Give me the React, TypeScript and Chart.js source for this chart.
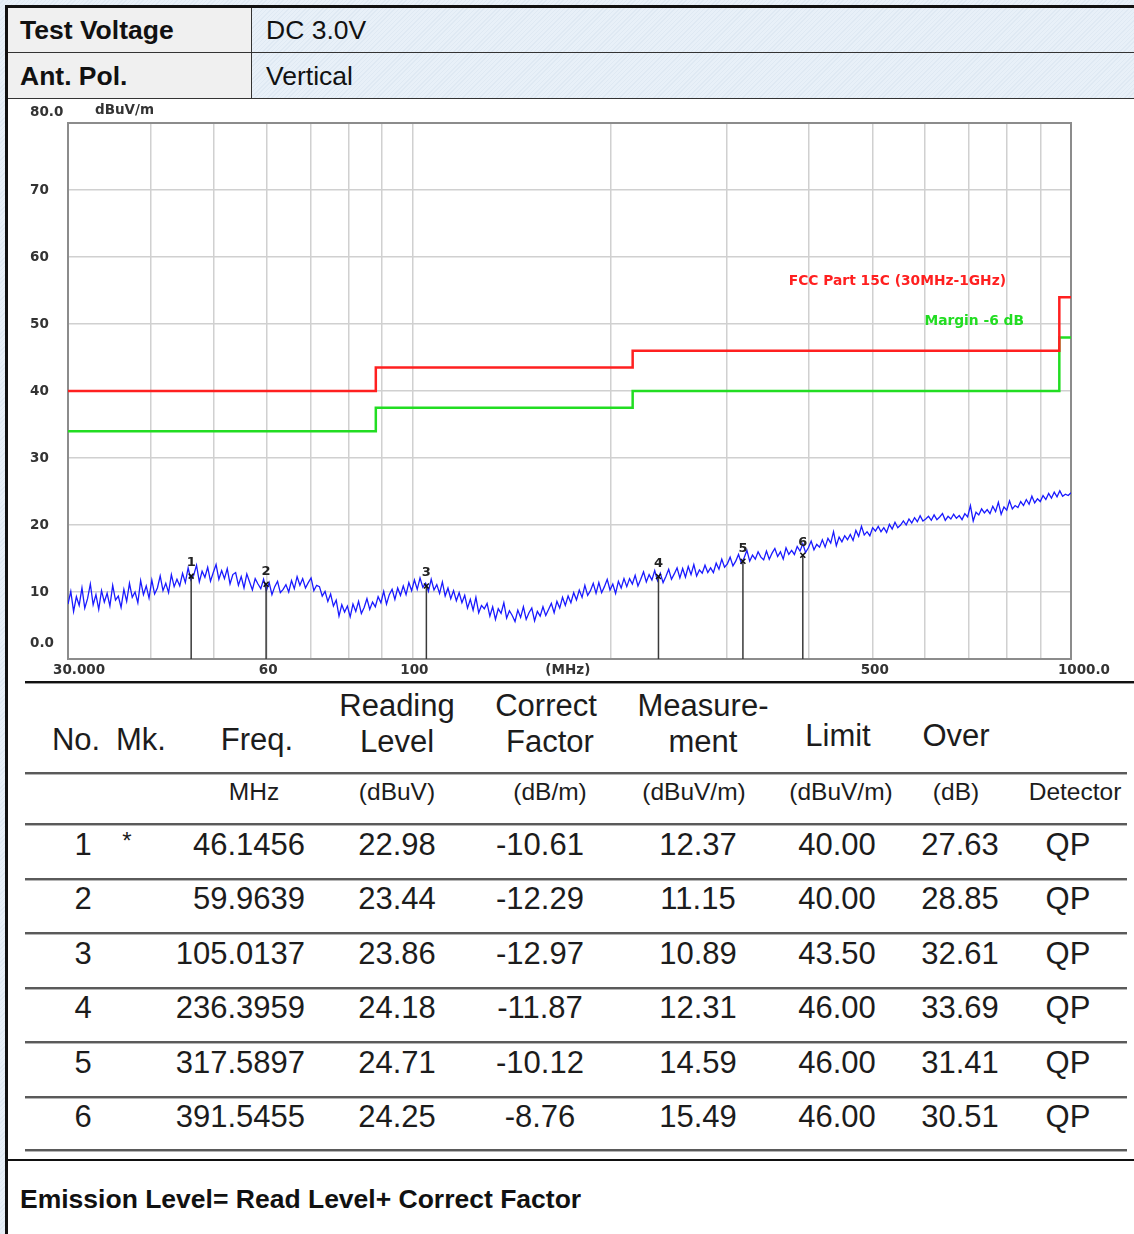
import React, { useEffect, useRef } from "react";
import { Chart, registerables } from "chart.js";

Chart.register(...registerables);

// ---------- data ----------
const X_MIN = 30;
const X_MAX = 1000;
const Y_MIN = 0;
const Y_MAX = 80;

const gridFreqs = [30, 40, 50, 60, 70, 80, 90, 100, 200, 300, 400, 500, 600, 700, 800, 900, 1000];
const yTickValues = [0, 10, 20, 30, 40, 50, 60, 70, 80];
const yTickLabels = ["0.0", "10", "20", "30", "40", "50", "60", "70", "80.0"];
const xLabelValues = [30, 60, 100, 171, 500, 1000];
const xLabelTexts = ["30.000", "60", "100", "(MHz)", "500", "1000.0"];

const limitFreqs = [30, 88, 88, 216, 216, 960, 960, 1000];
const limitLevels = [40, 40, 43.5, 43.5, 46, 46, 54, 54];
const marginLevels = [34, 34, 37.5, 37.5, 40, 40, 48, 48];

const traceValues = [
  8.2, 10.1, 7.1, 9.3, 8.0, 10.6, 7.6, 9.0, 11.2, 8.1,
  9.6, 7.4, 10.2, 8.5, 9.8, 7.9, 11.0, 8.8, 9.4, 7.7,
  10.4, 8.6, 11.3, 9.2, 10.0, 8.4, 11.7, 9.6, 10.9, 9.1,
  11.8, 9.7, 10.6, 12.4, 10.2, 11.3, 9.9, 12.6, 10.8, 11.9,
  10.9, 12.8, 11.4, 13.6, 11.8, 12.5, 14.0, 11.5, 13.1, 12.2,
  13.7, 11.6, 12.9, 14.1, 11.9, 13.2, 12.0, 13.5, 11.2, 12.6,
  12.9, 11.0, 12.3, 10.6, 12.7, 11.5, 10.3, 12.0, 11.2, 10.5,
  11.9, 10.2, 11.4, 9.6, 10.8, 11.6, 9.9, 10.4, 11.1, 10.0,
  11.7, 10.5, 12.3, 11.0, 12.0, 10.6, 11.4, 12.1, 10.2, 11.0,
  10.8, 9.4, 10.1, 8.6, 9.7, 7.9, 8.8, 6.4, 8.1, 7.0,
  7.9, 6.3, 8.2, 7.1, 8.6, 6.8, 7.7, 9.0, 7.4, 8.5,
  7.8, 9.3, 8.4, 10.1, 8.2, 9.6, 10.4, 8.9, 10.6, 9.5,
  10.9, 9.6, 11.4, 10.2, 11.8, 10.4, 12.1, 10.7, 11.3, 10.1,
  11.9, 10.3, 11.1, 9.8, 11.5, 9.4, 10.6, 9.0, 10.2, 8.7,
  9.9, 8.4, 9.5, 7.6, 8.9, 7.3, 9.2, 6.9, 8.0, 7.5,
  8.3, 6.4, 7.8, 5.9, 7.5, 6.8, 8.4, 6.1, 7.2, 6.5,
  5.6, 7.3, 6.2, 7.8, 5.9, 6.9, 7.6, 5.7, 7.1, 6.4,
  7.8, 6.5, 7.4, 8.3, 6.9, 8.6, 7.6, 9.2, 8.0, 9.4,
  8.4, 9.9, 8.8, 10.3, 9.2, 11.0, 9.5, 10.2, 11.3, 9.8,
  11.4, 9.9, 10.8, 11.9, 10.3, 11.2, 9.8, 11.6, 10.6, 12.0,
  10.8, 12.0, 11.2, 12.5, 10.9, 11.9, 13.0, 11.5, 12.6, 11.8,
  13.2, 11.7, 12.8, 11.4, 12.3, 13.4, 11.9, 12.7, 13.6, 12.1,
  13.5, 12.2, 13.8, 12.6, 14.1, 12.4, 13.3, 12.8, 14.0, 12.9,
  13.6, 12.9, 14.3, 13.4, 14.9, 13.7, 14.2, 15.2, 13.9, 14.6,
  15.6, 14.3, 15.1, 16.2, 14.6, 15.5, 14.9, 16.0, 15.2, 14.8,
  16.1, 14.9, 15.8, 16.5, 15.3, 16.0, 14.9, 16.6, 15.6, 16.2,
  15.6, 16.8, 16.1, 17.2, 15.9, 16.6, 17.6, 16.3, 17.1, 16.7,
  17.8, 16.7, 18.0, 17.3, 19.0, 16.9, 18.2, 17.5, 18.4, 17.8,
  18.6, 17.7, 19.2, 18.3, 19.8, 18.5, 19.0, 18.4, 19.6, 19.1,
  19.8, 19.0, 19.6, 18.9, 20.1, 19.4, 20.4, 19.6, 20.0, 20.6,
  20.0, 20.9, 20.3, 21.1, 20.5, 21.4, 20.6, 20.9, 21.3, 20.7,
  21.5, 20.8, 21.2, 21.7, 20.7, 21.3, 20.9, 21.6, 21.0, 21.4,
  20.8, 21.7, 21.2, 22.9, 20.6, 21.9, 21.5, 22.4, 21.8, 22.3,
  21.7, 22.8, 22.0, 23.4, 21.6, 22.7, 22.2, 23.6, 22.4, 22.9,
  22.6, 23.5, 22.9, 23.8, 23.1, 24.3, 23.3, 23.9, 23.5, 24.4,
  23.8, 24.7, 24.0, 24.9, 24.2, 25.1, 24.3, 24.6, 24.4, 24.8,
];
// sweep points, evenly spaced on the log frequency axis
const traceFreqs = traceValues.map(
  (_, i) => X_MIN * Math.pow(X_MAX / X_MIN, i / (traceValues.length - 1))
);

const markerNo = [1, 2, 3, 4, 5, 6];
const markerMk = ["*", "", "", "", "", ""];
const markerFreq = [46.1456, 59.9639, 105.0137, 236.3959, 317.5897, 391.5455];
const readingLevel = [22.98, 23.44, 23.86, 24.18, 24.71, 24.25];
const correctFactor = [-10.61, -12.29, -12.97, -11.87, -10.12, -8.76];
const measurement = [12.37, 11.15, 10.89, 12.31, 14.59, 15.49];
const limitAt = [40.0, 40.0, 43.5, 46.0, 46.0, 46.0];
const overMargin = [27.63, 28.85, 32.61, 33.69, 31.41, 30.51];
const detector = ["QP", "QP", "QP", "QP", "QP", "QP"];

const testVoltage = "DC 3.0V";
const antPol = "Vertical";
const limitName = "FCC Part 15C (30MHz-1GHz)";
const marginName = "Margin -6 dB";
const unitLabel = "dBuV/m";
const footerText = "Emission Level= Read Level+ Correct Factor";

// ---------- chart ----------
const CHART_FONT = '"DejaVu Sans", "Liberation Sans", sans-serif';

const labelsPlugin = {
  id: "emcLabels",
  beforeDatasetsDraw(chart: any) {
    const { ctx, chartArea } = chart;
    ctx.save();
    ctx.strokeStyle = "#8c8c8c";
    ctx.lineWidth = 2;
    ctx.strokeRect(chartArea.left, chartArea.top, chartArea.right - chartArea.left, chartArea.bottom - chartArea.top);
    ctx.restore();
  },
  afterDraw(chart: any) {
    const { ctx, chartArea } = chart;
    const x = chart.scales.x;
    const y = chart.scales.y;
    ctx.save();
    ctx.font = `bold 13.5px ${CHART_FONT}`;
    ctx.fillStyle = "#333";
    ctx.textBaseline = "middle";
    ctx.textAlign = "left";
    yTickValues.forEach((v, i) => {
      let py = y.getPixelForValue(v);
      if (v === Y_MAX) py -= 11;
      if (v === Y_MIN) py -= 16;
      ctx.fillText(yTickLabels[i], 22, py);
    });
    ctx.fillText(unitLabel, 87, 11);
    const ly = chartArea.bottom + 11;
    xLabelValues.forEach((v, i) => {
      const px = x.getPixelForValue(v);
      if (i === 0) {
        ctx.textAlign = "left";
        ctx.fillText(xLabelTexts[i], px - 15, ly);
      } else if (i === xLabelValues.length - 1) {
        ctx.textAlign = "right";
        ctx.fillText(xLabelTexts[i], px + 39, ly);
      } else {
        ctx.textAlign = "center";
        ctx.fillText(xLabelTexts[i], px + 2, ly);
      }
    });
    ctx.textAlign = "right";
    ctx.font = `bold 13.8px ${CHART_FONT}`;
    ctx.fillStyle = "#ff2020";
    ctx.fillText(limitName, chartArea.right - 65, y.getPixelForValue(56.4));
    ctx.fillStyle = "#22dd22";
    ctx.fillText(marginName, chartArea.right - 47, y.getPixelForValue(50.45));
    ctx.fillStyle = "#222";
    ctx.textAlign = "center";
    ctx.font = `bold 13px ${CHART_FONT}`;
    markerFreq.forEach((f, i) => {
      ctx.fillText(String(markerNo[i]), x.getPixelForValue(f), y.getPixelForValue(measurement[i]) - 13);
    });
    ctx.restore();
  },
};

function EmcChart() {
  const ref = useRef<HTMLCanvasElement | null>(null);
  useEffect(() => {
    if (!ref.current) return;
    const stems: any[] = [];
    markerFreq.forEach((f, i) => {
      stems.push({ x: f, y: 0 }, { x: f, y: measurement[i] }, { x: f, y: null });
    });
    const chart = new Chart(ref.current, {
      type: "line",
      data: {
        datasets: [
          {
            data: markerFreq.map((f, i) => ({ x: f, y: measurement[i] })),
            showLine: false,
            pointStyle: "crossRot",
            pointRadius: 3.5,
            borderColor: "#111",
            borderWidth: 1.5,
            order: 0,
          } as any,
          {
            data: stems,
            borderColor: "#3a3a3a",
            borderWidth: 1.5,
            pointRadius: 0,
            spanGaps: false,
            order: 1,
          },
          {
            data: traceFreqs.map((f, i) => ({ x: f, y: traceValues[i] })),
            borderColor: "#1a1aff",
            borderWidth: 1.3,
            pointRadius: 0,
            tension: 0,
            order: 2,
          },
          {
            data: limitFreqs.map((f, i) => ({ x: f, y: limitLevels[i] })),
            borderColor: "#ff2020",
            borderWidth: 2.5,
            pointRadius: 0,
            order: 3,
          },
          {
            data: limitFreqs.map((f, i) => ({ x: f, y: marginLevels[i] })),
            borderColor: "#22dd22",
            borderWidth: 2.5,
            pointRadius: 0,
            order: 3,
          },
        ],
      },
      options: {
        animation: false,
        responsive: false,
        events: [],
        layout: { padding: { top: 24, right: 63, left: 0, bottom: 0 } },
        plugins: { legend: { display: false }, tooltip: { enabled: false } },
        scales: {
          x: {
            type: "logarithmic",
            min: X_MIN,
            max: X_MAX,
            afterBuildTicks: (s: any) => {
              s.ticks = gridFreqs.map((v) => ({ value: v }));
            },
            afterFit: (s: any) => {
              s.height = 22;
            },
            ticks: { display: false },
            grid: { color: "#d0d0d0", lineWidth: 1.5, drawTicks: false },
            border: { display: false },
          },
          y: {
            type: "linear",
            min: Y_MIN,
            max: Y_MAX,
            afterBuildTicks: (s: any) => {
              s.ticks = yTickValues.map((v) => ({ value: v }));
            },
            afterFit: (s: any) => {
              s.width = 60;
            },
            ticks: { display: false },
            grid: { color: "#d0d0d0", lineWidth: 1.5, drawTicks: false },
            border: { display: false },
          },
        },
      } as any,
      plugins: [labelsPlugin],
    });
    return () => chart.destroy();
  }, []);
  return <canvas ref={ref} width={1126} height={582} style={{ display: "block", width: 1126, height: 582 }} />;
}

// ---------- page ----------
const FONT = '"Liberation Sans", Arial, sans-serif';
const hatch =
  "repeating-linear-gradient(135deg, #e8f0f8 0px, #e8f0f8 2px, #dfe9f3 2px, #dfe9f3 3px)";

function Txt(props: { x: number; y: number; size: number; bold?: boolean; align?: string; color?: string; children: any }) {
  const { x, y, size, bold, align = "center", color = "#1c1c1c", children } = props;
  const tx = align === "center" ? "-50%" : align === "right" ? "-100%" : "0";
  return (
    <div
      style={{
        position: "absolute",
        left: x,
        top: y,
        transform: `translate(${tx},-50%)`,
        fontSize: size,
        fontWeight: bold ? 700 : 400,
        fontFamily: FONT,
        color,
        whiteSpace: "nowrap",
        lineHeight: 1.15,
      }}
    >
      {children}
    </div>
  );
}

function Rule(props: { y: number; x1: number; x2: number; dark?: boolean }) {
  const { y, x1, x2, dark } = props;
  return (
    <div
      style={{
        position: "absolute",
        left: x1,
        top: y,
        width: x2 - x1,
        height: 3,
        background: dark
          ? "linear-gradient(#111 0px, #111 2px, #999 2px, #999 3px)"
          : "linear-gradient(#5a5a5a 0px, #5a5a5a 2px, #b5b5b5 2px, #b5b5b5 3px)",
      }}
    />
  );
}

export default function App() {
  const rowY = [845, 899, 954, 1008, 1063, 1117];
  const rowLines = [878, 932, 987, 1041, 1096];
  const fmt2 = (v: number) => v.toFixed(2);
  const H = 31;
  const R = 31;
  const U = 24.5;
  return (
    <div
      style={{
        position: "absolute",
        left: 0,
        top: 0,
        width: 1134,
        height: 1234,
        overflow: "hidden",
        background: hatch,
      }}
    >
      <div style={{ position: "absolute", left: 5, top: 5, width: 1129, height: 1229, background: "#fff" }} />
      <div style={{ position: "absolute", left: 5, top: 5, width: 3, height: 1229, background: "#111" }} />
      <div style={{ position: "absolute", left: 5, top: 5, width: 1129, height: 3, background: "#111" }} />

      <div style={{ position: "absolute", left: 8, top: 8, width: 243, height: 90, background: "#f0f0f0" }} />
      <div style={{ position: "absolute", left: 252, top: 8, width: 882, height: 90, background: hatch }} />
      <div style={{ position: "absolute", left: 251, top: 8, width: 1, height: 90, background: "#333" }} />
      <div style={{ position: "absolute", left: 8, top: 52, width: 1126, height: 1, background: "#333" }} />
      <div style={{ position: "absolute", left: 8, top: 98, width: 1126, height: 1, background: "#333" }} />
      <Txt x={20} y={30} size={26.5} bold align="left" color="#111">Test Voltage</Txt>
      <Txt x={266} y={30} size={26.5} align="left" color="#111">{testVoltage}</Txt>
      <Txt x={20} y={76} size={26.5} bold align="left" color="#111">Ant. Pol.</Txt>
      <Txt x={266} y={76} size={26.5} align="left" color="#111">{antPol}</Txt>

      <div style={{ position: "absolute", left: 8, top: 99, width: 1126, height: 582, background: "#fff" }}>
        <EmcChart />
      </div>

      <Rule y={681} x1={25} x2={1134} dark />
      <Txt x={76} y={740} size={H}>No.</Txt>
      <Txt x={141} y={740} size={H}>Mk.</Txt>
      <Txt x={257} y={740} size={H}>Freq.</Txt>
      <Txt x={397} y={706} size={H}>Reading</Txt>
      <Txt x={397} y={742} size={H}>Level</Txt>
      <Txt x={546} y={706} size={H}>Correct</Txt>
      <Txt x={550} y={742} size={H}>Factor</Txt>
      <Txt x={703} y={706} size={H}>Measure-</Txt>
      <Txt x={703} y={742} size={H}>ment</Txt>
      <Txt x={838} y={736} size={H}>Limit</Txt>
      <Txt x={956} y={736} size={H}>Over</Txt>
      <Rule y={772} x1={25} x2={1127} />
      <Txt x={254} y={792} size={U}>MHz</Txt>
      <Txt x={397} y={792} size={U}>(dBuV)</Txt>
      <Txt x={550} y={792} size={U}>(dB/m)</Txt>
      <Txt x={694} y={792} size={U}>(dBuV/m)</Txt>
      <Txt x={841} y={792} size={U}>(dBuV/m)</Txt>
      <Txt x={956} y={792} size={U}>(dB)</Txt>
      <Txt x={1075} y={792} size={U}>Detector</Txt>
      <Rule y={823} x1={25} x2={1127} />
      {markerNo.map((n, i) => (
        <React.Fragment key={n}>
          <Txt x={83} y={rowY[i]} size={R}>{String(n)}</Txt>
          <Txt x={127} y={rowY[i] - 4} size={24}>{markerMk[i]}</Txt>
          <Txt x={305} y={rowY[i]} size={R} align="right">{markerFreq[i].toFixed(4)}</Txt>
          <Txt x={397} y={rowY[i]} size={R}>{fmt2(readingLevel[i])}</Txt>
          <Txt x={540} y={rowY[i]} size={R}>{fmt2(correctFactor[i])}</Txt>
          <Txt x={698} y={rowY[i]} size={R}>{fmt2(measurement[i])}</Txt>
          <Txt x={837} y={rowY[i]} size={R}>{fmt2(limitAt[i])}</Txt>
          <Txt x={960} y={rowY[i]} size={R}>{fmt2(overMargin[i])}</Txt>
          <Txt x={1068} y={rowY[i]} size={R}>{detector[i]}</Txt>
        </React.Fragment>
      ))}
      {rowLines.map((y) => (
        <Rule key={y} y={y} x1={25} x2={1127} />
      ))}
      <Rule y={1149} x1={25} x2={1127} />
      <div style={{ position: "absolute", left: 8, top: 1159, width: 1126, height: 2, background: "#111" }} />
      <Txt x={20} y={1199} size={26.5} bold align="left" color="#111">{footerText}</Txt>
    </div>
  );
}
